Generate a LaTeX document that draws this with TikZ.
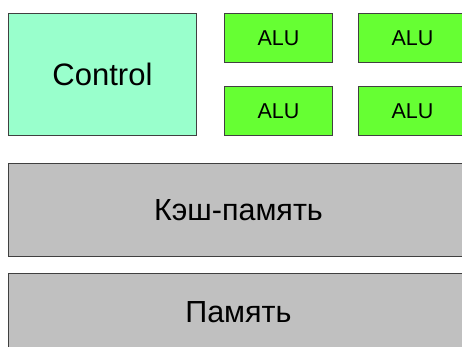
\documentclass[tikz,border=0pt]{standalone}
\usepackage{fontspec}
\setmainfont{Liberation Sans}
\definecolor{ctrlgreen}{HTML}{99FFCC}
\definecolor{alugreen}{HTML}{66FF33}
\definecolor{memgray}{HTML}{C0C0C0}

\begin{document}
\begin{tikzpicture}[x=1pt, y=1pt,
  every node/.style = {shape=rectangle, draw=black!75, line width=0.9pt,
    anchor=north west, align=center, inner sep=0pt}]
    \tikzstyle{ctrl}=[fill=ctrlgreen, minimum width=188pt, minimum height=122pt,
      font=\fontsize{31}{35}\selectfont]
    \tikzstyle{alu}=[fill=alugreen, minimum width=108pt, minimum height=49pt,
      font=\fontsize{21.5}{25}\selectfont]
    \tikzstyle{mem}=[fill=memgray, minimum width=460pt,
      font=\fontsize{30.5}{35}\selectfont]
  \useasboundingbox (0,0) rectangle (462,-347);
  \clip (0,0) rectangle (462,-347);
  \node [ctrl] (control) at (8,-13) {Control};
  \node [alu] (alu1) at (224,-13) {ALU};
  \node [alu] (alu2) at (358,-13) {ALU};
  \node [alu] (alu3) at (224,-86) {ALU};
  \node [alu] (alu4) at (358,-86) {ALU};
  \node [mem, minimum height=93pt] (cache) at (8,-163) {Кэш-память};
  \node [mem, minimum height=78pt] (memory) at (8,-273) {Память};
\end{tikzpicture}
\end{document}
